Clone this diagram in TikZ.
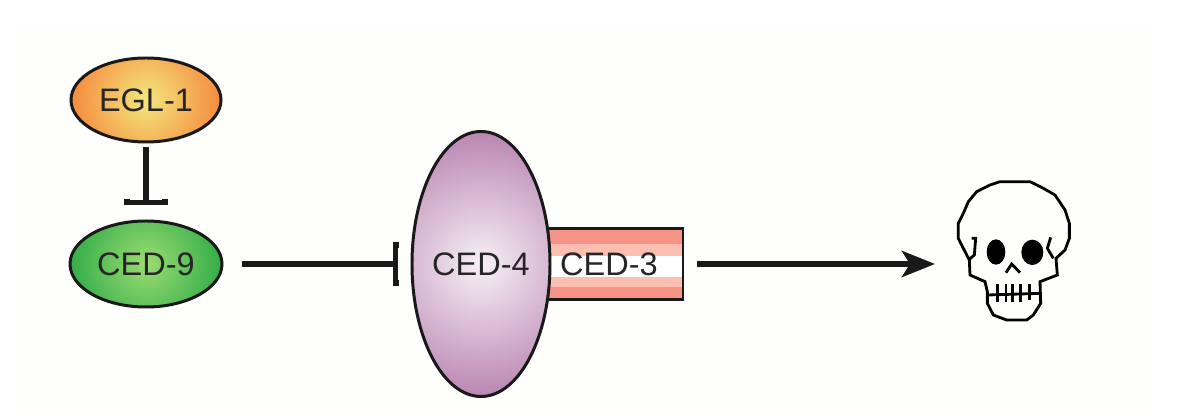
\documentclass[tikz,border=0pt]{standalone}
\usepackage{fontspec}
\setmainfont{Liberation Sans}
\usetikzlibrary{positioning, shapes, arrows.meta, calc}
\definecolor{paper}{RGB}{254,254,252}
\definecolor{eglin}{RGB}{243,232,125}
\definecolor{eglout}{RGB}{245,135,60}
\definecolor{cedninein}{RGB}{155,220,115}
\definecolor{cednineout}{RGB}{50,172,72}
\definecolor{cedfourin}{RGB}{246,240,246}
\definecolor{cedfourout}{RGB}{184,130,176}
\definecolor{cedthreedark}{RGB}{247,148,136}
\definecolor{cedthreelight}{RGB}{253,190,178}

\begin{document}
\begin{tikzpicture}[
    blob/.style={ellipse, draw=black!90, line width=1.7pt, inner sep=0pt, font=\fontsize{18.5}{20}\selectfont, text=black!85},
    line/.style={line width=3.4pt, black!90},
    skullline/.style={line width=1.6pt, black, line join=miter}
]
    \useasboundingbox (0,0) rectangle (23.54,8.32);
    \fill[white] (0,0) rectangle (23.54,8.32);
    \fill[paper] (0.3,0.1) rectangle (23.0,7.84);

    % Upstream regulators
    \node[blob, minimum width=3cm, minimum height=1.68cm, fill=eglout,
        path picture={\shade[inner color=eglin, outer color=eglout] (path picture bounding box.center) circle (1.55cm);}] (egl) at (2.92, 6.32) {EGL-1};
    \node[blob, minimum width=3.04cm, minimum height=1.72cm, fill=cednineout,
        path picture={\shade[inner color=cedninein, outer color=cednineout] (path picture bounding box.center) circle (1.55cm);}] (ced9) at (2.92, 3.04) {CED-9};

    % Death complex
    \node[rectangle, draw=black!90, line width=1.5pt, minimum width=2.96cm, minimum height=1.42cm, inner sep=0pt, font=\fontsize{18.5}{20}\selectfont, text=black!85,
        path picture={
            \fill[cedthreedark] (path picture bounding box.south west) rectangle (path picture bounding box.north east);
            \fill[cedthreelight] ($(path picture bounding box.south west)+(0,0.24)$) rectangle ($(path picture bounding box.north east)+(0,-0.32)$);
            \fill[white] ($(path picture bounding box.south west)+(0,0.44)$) rectangle ($(path picture bounding box.north east)+(0,-0.56)$);
        }] (ced3) at (12.18, 3.04) {CED-3};
    \node[blob, minimum width=2.76cm, minimum height=5.3cm, fill=cedfourout,
        path picture={\shade[inner color=cedfourin, outer color=cedfourout] (path picture bounding box.center) circle (2.75cm);}] (ced4) at (9.62, 3.04) {CED-4};
    \coordinate (death_in) at (18.7, 3.04);

    % Connectors
    \draw[line, -{Bar[width=0.88cm, length=0.12cm]}, shorten <=0.08cm, shorten >=0.28cm] (egl) -- (ced9);
    \draw[line, -{Bar[width=0.88cm, length=0.12cm]}, shorten <=0.38cm, shorten >=0.24cm] (ced9) -- (ced4);
    \draw[line, -{Stealth[length=0.66cm, width=0.52cm, inset=0.16cm]}, shorten <=0.26cm] (ced3) -- (death_in);

    % Skull
    \begin{scope}[shift={(18.6, 5.12)}, x=0.00667cm, y=-0.00667cm]
        \draw[skullline] (85,235) -- (85,190) -- (100,160) -- (115,125) -- (140,95) -- (180,75) -- (210,65) -- (300,65) -- (340,85) -- (375,105) -- (405,150) -- (418,190) -- (418,235) -- (405,270) -- (378,295) -- (382,345) -- (330,365) -- (332,430) -- (310,465) -- (290,480) -- (230,480) -- (190,465) -- (172,430) -- (172,395) -- (165,365) -- (120,345) -- (118,300) -- (100,265) -- cycle;
        \draw[skullline] (125,235) -- (137,235) -- (133,285) -- (118,298);
        \draw[skullline] (362,232) -- (352,265) -- (370,295);
        \fill (198,276) ellipse (28 and 38);
        \fill (307,277) ellipse (33 and 38);
        \draw[skullline] (228,338) -- (245,312) -- (270,338);
        \draw[skullline] (172,405) -- (332,400);
        \foreach \tx/\ta/\tb in {203/372/425, 228/372/425, 248/372/425, 272/372/425, 298/372/420}
            \draw[skullline] (\tx,\ta) -- (\tx,\tb);
    \end{scope}
\end{tikzpicture}
\end{document}
